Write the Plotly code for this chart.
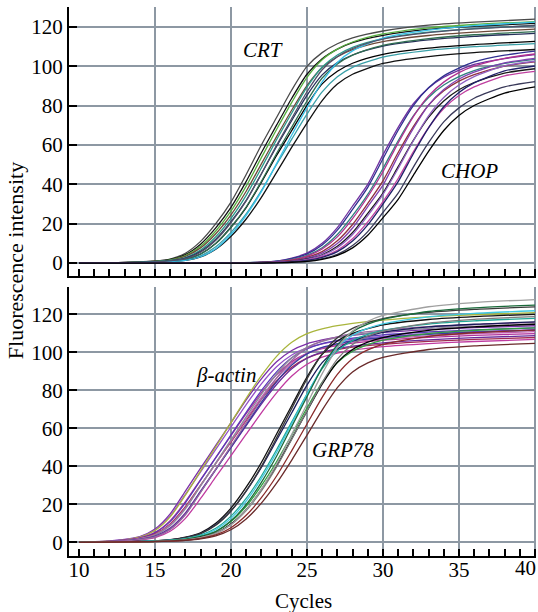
import plotly.graph_objects as go

# ---------------- data ----------------
cycles_crt = [10, 13, 15, 16, 17, 18, 19, 20, 21, 22, 23, 24, 25, 26, 27, 28, 30, 33, 36, 40]
crt_curves = [
    [0, 0.3, 1.0, 2.0, 5.0, 11.0, 20.0, 31.0, 45.0, 60.0, 74.0, 88.0, 100.0, 107.0, 111.5, 114.5, 118.0, 121.0, 122.5, 124.0],
    [0, 0.3, 0.9, 1.8, 4.3, 9.6, 17.9, 28.3, 41.5, 56.1, 70.1, 83.8, 96.0, 103.9, 108.8, 112.1, 115.8, 118.9, 120.4, 121.9],
    [0, 0.2, 0.8, 1.6, 3.8, 8.5, 16.3, 26.4, 39.1, 53.6, 67.9, 81.7, 94.4, 103.4, 108.8, 112.4, 116.5, 119.6, 121.3, 122.8],
    [0, 0.2, 0.8, 1.4, 3.4, 7.7, 14.9, 24.5, 36.5, 50.4, 64.3, 77.8, 90.2, 99.4, 104.9, 108.5, 112.6, 115.7, 117.4, 118.9],
    [0, 0.2, 0.7, 1.3, 2.8, 6.6, 13.4, 22.7, 34.4, 48.3, 62.7, 76.3, 89.4, 99.7, 105.8, 109.7, 114.1, 117.4, 119.2, 120.8],
    [0, 0.2, 0.6, 1.1, 2.5, 5.9, 12.1, 21.0, 31.9, 45.3, 59.3, 72.5, 85.3, 95.7, 101.9, 105.8, 110.3, 113.5, 115.3, 116.8],
    [0, 0.1, 0.5, 0.9, 1.8, 4.6, 10.0, 18.2, 28.2, 41.0, 54.7, 67.4, 80.2, 91.1, 97.5, 101.6, 106.1, 109.3, 111.1, 112.7],
    [0, 0.1, 0.5, 0.9, 1.8, 4.5, 9.9, 18.2, 28.5, 41.5, 55.7, 69.1, 82.4, 94.1, 101.2, 105.7, 110.7, 114.1, 116.1, 117.7],
    [0, 0.1, 0.4, 0.8, 1.5, 3.7, 8.3, 15.6, 25.0, 36.8, 50.1, 63.0, 75.7, 87.0, 94.7, 99.5, 104.7, 108.1, 110.0, 111.6],
    [0, 0.1, 0.4, 0.7, 1.3, 3.1, 7.0, 13.6, 22.4, 33.4, 46.1, 58.9, 71.2, 82.6, 91.0, 96.0, 101.5, 105.0, 107.0, 108.6],
    [0, 0.1, 0.4, 0.8, 1.4, 3.2, 7.3, 14.5, 24.2, 36.3, 50.6, 65.1, 79.0, 92.1, 102.0, 107.9, 114.4, 118.4, 120.7, 122.5],
    [0, 0.2, 0.6, 1.1, 2.2, 5.5, 11.6, 20.6, 31.6, 45.4, 59.9, 73.6, 87.1, 98.3, 104.9, 109.1, 113.9, 117.2, 119.1, 120.8],
]
crt_colors = ["#4a4a4a", "#111111", "#58b040", "#6e4a3a", "#2a9a8a", "#26305a",
              "#000000", "#2f6e50", "#3aa0a8", "#101010", "#38c0e8", "#50506a"]

cycles_chop = [10, 20, 22, 23, 24, 25, 26, 27, 28, 29, 30, 31, 32, 33, 34, 35, 36, 38, 40]
chop_curves = [
    [0, 0, 0.5, 1.0, 2.5, 5.0, 10.0, 18.0, 29.0, 40.0, 55.0, 69.0, 81.0, 89.0, 94.5, 98.0, 101.0, 104.0, 106.0],
    [0, 0, 0.4, 0.9, 2.2, 4.6, 9.2, 16.7, 27.3, 38.5, 53.0, 67.5, 80.1, 89.1, 95.2, 99.1, 102.3, 105.7, 107.8],
    [0, 0, 0.4, 0.8, 1.9, 3.9, 7.8, 14.5, 24.1, 34.9, 48.1, 62.2, 74.8, 84.2, 90.5, 94.8, 97.9, 101.5, 103.6],
    [0, 0, 0.3, 0.7, 1.6, 3.5, 7.1, 13.3, 22.6, 33.7, 46.4, 61.1, 74.5, 85.0, 92.0, 96.8, 100.1, 104.1, 106.3],
    [0, 0, 0.3, 0.6, 1.3, 2.9, 5.8, 11.3, 19.6, 30.3, 41.8, 56.2, 69.4, 80.3, 87.6, 92.5, 95.8, 100.1, 102.3],
    [0, 0, 0.2, 0.5, 1.0, 2.5, 5.0, 9.9, 17.8, 28.7, 39.6, 54.5, 68.4, 80.3, 88.2, 93.6, 97.1, 101.8, 104.1],
    [0, 0, 0.2, 0.4, 0.8, 2.1, 4.2, 8.5, 15.5, 25.3, 35.6, 49.0, 62.4, 74.1, 82.4, 88.1, 91.8, 96.6, 98.8],
    [0, 0, 0.1, 0.4, 0.8, 1.9, 3.9, 7.8, 14.5, 24.1, 34.9, 48.1, 62.2, 74.8, 84.2, 90.5, 94.8, 100.3, 102.6],
    [0, 0, 0.1, 0.3, 0.7, 1.5, 3.3, 6.5, 12.3, 20.9, 31.2, 43.0, 56.6, 68.9, 78.6, 85.2, 89.6, 95.2, 97.5],
    [0, 0, 0.0, 0.3, 0.6, 1.3, 2.9, 5.8, 11.2, 19.4, 30.0, 41.4, 55.6, 68.7, 79.5, 86.7, 91.6, 97.7, 100.2],
    [0, 0, 0.0, 0.2, 0.4, 0.9, 2.2, 4.4, 8.9, 16.0, 25.7, 35.5, 48.8, 61.2, 71.8, 78.9, 83.8, 89.6, 92.2],
    [0, 0, 0.0, 0.1, 0.4, 0.8, 1.9, 3.9, 7.7, 14.1, 23.0, 32.4, 44.6, 56.8, 67.4, 75.0, 80.1, 86.4, 89.6],
]
chop_colors = ["#7030a0", "#303090", "#308080", "#b03090", "#903040", "#8040b0",
               "#1a1a1a", "#9060c0", "#c040a0", "#20206a", "#3a3a5a", "#000000"]

cycles_actin = [10, 12, 13, 14, 15, 16, 17, 18, 19, 20, 21, 22, 23, 24, 25, 26, 27, 28, 30, 33, 36, 40]
actin_curves = [
    [0, 0.7, 1.5, 3.0, 7.0, 15.0, 27.0, 39.0, 51.0, 63.0, 75.0, 86.0, 95.0, 101.0, 104.5, 106.5, 108.0, 109.0, 110.5, 112.0, 113.0, 114.0],
    [0, 0.6, 1.4, 2.8, 6.5, 13.9, 25.3, 37.1, 48.9, 60.7, 72.5, 83.4, 92.4, 98.6, 102.3, 104.4, 105.9, 106.9, 108.4, 109.9, 110.9, 111.9],
    [0, 0.6, 1.3, 2.7, 6.2, 13.4, 24.8, 37.6, 50.3, 63.0, 75.8, 87.7, 97.9, 105.3, 109.8, 112.4, 114.1, 115.3, 117.0, 118.7, 119.8, 120.9],
    [0, 0.5, 1.1, 2.3, 5.2, 11.4, 21.4, 33.0, 44.6, 56.2, 67.7, 78.7, 88.2, 95.1, 99.5, 102.0, 103.6, 104.8, 106.4, 107.9, 108.9, 109.9],
    [0, 0.5, 1.1, 2.2, 5.0, 10.9, 20.8, 32.7, 44.6, 56.5, 68.4, 79.8, 89.7, 97.1, 101.8, 104.6, 106.3, 107.5, 109.2, 110.7, 111.8, 112.9],
    [0, 0.4, 1.0, 2.0, 4.4, 9.7, 18.8, 30.1, 41.5, 52.8, 64.2, 75.2, 84.9, 92.2, 97.0, 99.7, 101.4, 102.7, 104.2, 105.8, 106.8, 107.8],
    [0, 0.4, 0.9, 1.9, 4.1, 9.2, 18.1, 29.8, 41.5, 53.2, 64.9, 76.3, 86.4, 94.3, 99.4, 102.4, 104.2, 105.5, 107.1, 108.7, 109.8, 110.9],
    [0, 0.4, 0.9, 1.8, 3.8, 8.7, 17.6, 29.7, 41.8, 53.9, 66.0, 77.9, 88.6, 97.1, 102.6, 105.8, 107.8, 109.2, 110.9, 112.6, 113.7, 114.8],
    [0, 0.3, 0.7, 1.6, 3.3, 7.5, 15.5, 27.0, 38.4, 49.9, 61.4, 72.8, 83.1, 91.4, 96.9, 100.1, 102.0, 103.3, 105.0, 106.6, 107.7, 108.8],
    [0, 0.3, 0.7, 1.5, 2.9, 6.9, 14.7, 26.5, 38.3, 50.1, 61.9, 73.7, 84.5, 93.3, 99.2, 102.6, 104.6, 106.1, 107.8, 109.5, 110.6, 111.7],
    [0, 0.2, 0.6, 1.3, 2.5, 5.8, 12.6, 23.1, 34.4, 45.6, 56.9, 68.2, 78.7, 87.5, 93.7, 97.5, 99.6, 101.1, 103.0, 104.6, 105.7, 106.8],
    [0, 0.3, 0.7, 1.4, 2.9, 6.7, 14.5, 26.3, 38.5, 50.7, 62.9, 75.1, 86.4, 95.8, 102.2, 106.0, 108.2, 109.8, 111.7, 113.5, 114.6, 115.8],
]
actin_colors = ["#7b2fa8", "#9450c8", "#a9b53c", "#b0309a", "#5a3ab8", "#a02a50",
                "#c060b0", "#8a8a9a", "#6a2a9a", "#3a3aa0", "#c03aa0", "#9a6aa0"]

cycles_grp = [10, 14, 16, 17, 18, 19, 20, 21, 22, 23, 24, 25, 26, 27, 28, 29, 30, 33, 36, 40]
grp_curves = [
    [0, 0.5, 1.4, 2.7, 5.0, 10.0, 18.0, 29.0, 42.0, 57.0, 72.0, 87.0, 99.0, 106.0, 110.0, 112.5, 114.5, 117.3, 118.8, 120.0],
    [0, 0.5, 1.3, 2.5, 4.6, 9.2, 16.6, 27.0, 39.4, 53.7, 68.2, 82.7, 94.6, 101.8, 106.0, 108.5, 110.5, 113.4, 114.8, 116.0],
    [0, 0.5, 1.3, 2.5, 4.6, 9.0, 16.5, 27.1, 40.0, 55.0, 70.5, 86.0, 99.2, 107.7, 112.6, 115.6, 117.8, 121.0, 122.6, 123.9],
    [0, 0.4, 1.1, 2.0, 3.8, 7.4, 13.8, 23.1, 34.9, 48.7, 63.4, 78.1, 91.4, 100.8, 106.2, 109.4, 111.6, 114.9, 116.6, 117.9],
    [0, 0.4, 1.0, 1.8, 3.4, 6.6, 12.6, 21.7, 33.5, 47.3, 62.5, 77.8, 92.1, 102.8, 109.0, 112.6, 115.0, 118.7, 120.5, 121.9],
    [0, 0.3, 0.9, 1.6, 3.0, 5.7, 10.9, 19.0, 29.8, 42.4, 56.5, 70.7, 84.2, 94.6, 100.6, 104.1, 106.4, 109.9, 111.6, 112.9],
    [0, 0.3, 0.9, 1.6, 3.1, 5.7, 11.3, 19.9, 31.6, 45.3, 61.0, 76.6, 91.9, 103.9, 110.9, 114.9, 117.4, 121.5, 123.4, 124.9],
    [0, 0.3, 0.8, 1.3, 2.6, 4.8, 9.6, 17.2, 27.8, 40.2, 54.6, 69.0, 83.3, 94.8, 101.5, 105.4, 107.8, 111.6, 113.4, 114.8],
    [0, 0.3, 0.8, 1.3, 2.5, 4.6, 9.2, 16.7, 27.1, 39.7, 54.3, 69.2, 84.1, 96.4, 104.1, 108.5, 111.2, 115.4, 117.4, 118.8],
    [0, 0.3, 0.8, 1.3, 2.5, 4.7, 9.3, 17.1, 28.0, 41.3, 56.8, 72.8, 88.8, 102.4, 111.2, 116.3, 119.4, 124.0, 126.2, 127.8],
    [0, 0.3, 0.6, 1.1, 2.1, 3.9, 7.7, 14.2, 23.5, 34.9, 48.3, 62.3, 76.3, 88.4, 96.6, 101.3, 104.2, 108.4, 110.3, 111.7],
    [0, 0.2, 0.6, 1.0, 1.8, 3.4, 6.6, 12.3, 20.6, 31.1, 43.3, 56.4, 69.6, 81.4, 89.7, 94.5, 97.3, 101.5, 103.4, 104.7],
]
grp_colors = ["#111111", "#1a1a5a", "#3a3a3a", "#20a898", "#40c8e0", "#30a040",
              "#1a6a3a", "#000000", "#7a7a7a", "#a0a0a0", "#8a2a2a", "#6a2a2a"]

x_labels = [10, 15, 20, 25, 30, 35]   # 40 is written separately so it is not cut off
x_grid = [15, 20, 25, 30, 35, 40]
y_ticks = [0, 20, 40, 60, 80, 100, 120]

# ---------------- figure ----------------
FONT = "Liberation Serif"
GRID = "#8d98a3"

fig = go.Figure()


def add_group(xs, curves, colors, xa, ya):
    for ys, c in zip(curves, colors):
        fig.add_trace(go.Scatter(
            x=xs, y=ys, mode="lines", xaxis=xa, yaxis=ya,
            line=dict(color=c, width=1.3, shape="spline", smoothing=0.7),
            showlegend=False, hoverinfo="skip"))


add_group(cycles_crt, crt_curves, crt_colors, "x", "y")
add_group(cycles_chop, chop_curves, chop_colors, "x", "y")
add_group(cycles_actin, actin_curves, actin_colors, "x2", "y2")
add_group(cycles_grp, grp_curves, grp_colors, "x2", "y2")

all_ticks = list(range(10, 41))
xcommon = dict(
    range=[9.342, 40.07], tickmode="array", tickvals=all_ticks,
    ticks="inside", ticklen=7, tickwidth=1.5, tickcolor="black",
    showgrid=False, zeroline=False,
    showline=True, linecolor="black", linewidth=2,
    minor=dict(tickmode="array", tickvals=x_grid, showgrid=True,
               gridcolor=GRID, gridwidth=1.5, ticks=""),
    tickfont=dict(family=FONT, size=21, color="black"),
    automargin=False, ticklabelstandoff=-6,
)
ycommon = dict(
    tickmode="array", tickvals=y_ticks, ticktext=[str(v) for v in y_ticks],
    ticks="inside", ticklen=8, tickwidth=1.5, tickcolor="black",
    showgrid=True, gridcolor=GRID, gridwidth=1.5, zeroline=False,
    showline=True, linecolor="black", linewidth=2,
    tickfont=dict(family=FONT, size=21, color="black"),
    automargin=False,
)

fig.update_layout(
    width=538, height=612,
    margin=dict(l=69, r=2, t=7, b=56),
    paper_bgcolor="white", plot_bgcolor="white",
    font=dict(family=FONT, size=21, color="black"),
    xaxis=dict(xcommon, anchor="y", showticklabels=False,
               ticktext=["" for v in all_ticks]),
    yaxis=dict(ycommon, domain=[0.510, 1.0], range=[-6.6, 130.2], anchor="x"),
    xaxis2=dict(xcommon, anchor="y2", matches="x",
                ticktext=[str(v) if v in x_labels else "" for v in all_ticks]),
    yaxis2=dict(ycommon, domain=[0.0, 0.490], range=[-7.2, 134.4], anchor="x2"),
)

labels = [("CRT", 22.09, 108.4, "x", "y"), ("CHOP", 35.67, 46.9, "x", "y"),
          ("β-actin", 19.64, 88.0, "x2", "y2"), ("GRP78", 27.34, 48.6, "x2", "y2")]
for txt, lx, ly, xr, yr in labels:
    fig.add_annotation(x=lx, y=ly, xref=xr, yref=yr, text="<i>%s</i>" % txt,
                       showarrow=False, font=dict(family=FONT, size=21, color="black"),
                       xanchor="center", yanchor="middle")

# last x tick label, pulled in so that it stays inside the page
fig.add_annotation(x=1.0, y=-0.0225, xref="paper", yref="paper", text="40",
                   showarrow=False, font=dict(family=FONT, size=21, color="black"),
                   xanchor="right", yanchor="middle", xshift=2)

fig.add_annotation(x=-0.1156, y=0.537, xref="paper", yref="paper",
                   text="Fluorescence intensity", textangle=-90, showarrow=False,
                   font=dict(family=FONT, size=22, color="black"),
                   xanchor="center", yanchor="middle")
fig.add_annotation(x=0.503, y=-0.082, xref="paper", yref="paper",
                   text="Cycles", showarrow=False,
                   font=dict(family=FONT, size=21, color="black"),
                   xanchor="center", yanchor="middle")

fig.write_html("out.html")
